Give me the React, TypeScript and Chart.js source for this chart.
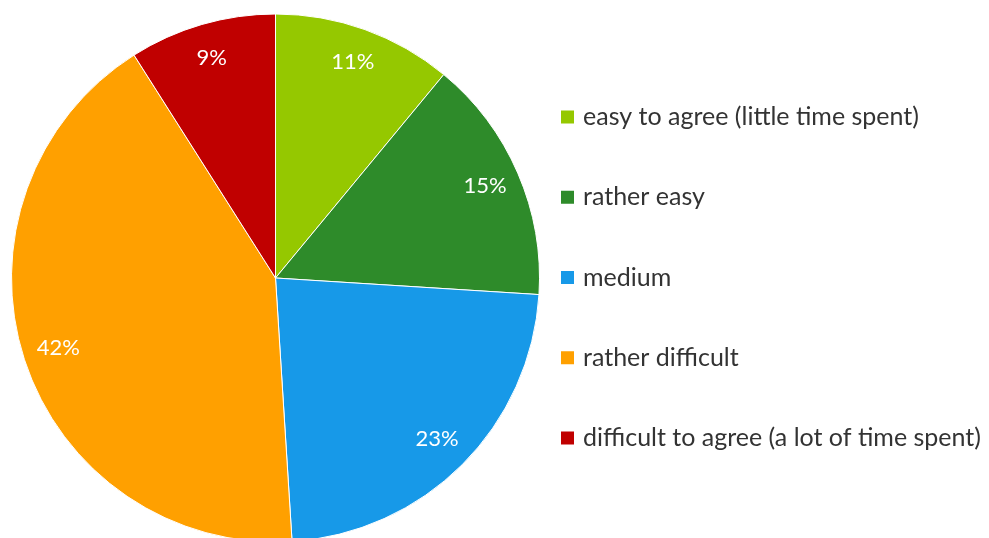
import React, { useEffect, useRef } from "react";
import { Chart, registerables } from "chart.js";

Chart.register(...registerables);

const categories = [
  "easy to agree (little time spent)",
  "rather easy",
  "medium",
  "rather difficult",
  "difficult to agree (a lot of time spent)",
];
const shares = [11, 15, 23, 42, 9];
const sliceColors = ["#95C800", "#2E8B2A", "#1799E8", "#FFA000", "#C00000"];

const FONT = "Lato, 'Open Sans', sans-serif";

const pieLabels = {
  id: "pieLabels",
  afterDatasetsDraw(chart: any) {
    const ctx = chart.ctx;
    const meta = chart.getDatasetMeta(0);
    ctx.save();
    ctx.fillStyle = "#ffffff";
    ctx.font = `22px ${FONT}`;
    ctx.textAlign = "center";
    ctx.textBaseline = "middle";
    meta.data.forEach((arc: any, i: number) => {
      const { x, y, startAngle, endAngle, outerRadius } = arc.getProps(
        ["x", "y", "startAngle", "endAngle", "outerRadius"],
        true
      );
      const mid = (startAngle + endAngle) / 2;
      const r = outerRadius * 0.865;
      ctx.fillText(`${shares[i]}%`, x + Math.cos(mid) * r, y + Math.sin(mid) * r - 1);
    });
    ctx.restore();
  },
};

const sideLegend = {
  id: "sideLegend",
  afterDraw(chart: any) {
    const ctx = chart.ctx;
    const labels = chart.data.labels as string[];
    const colors = chart.data.datasets[0].backgroundColor as string[];
    const boxX = 561;
    const box = 13;
    const textX = 583;
    const firstY = 117;
    const step = 80.25;
    ctx.save();
    ctx.font = `25px ${FONT}`;
    ctx.textAlign = "left";
    ctx.textBaseline = "middle";
    labels.forEach((lab, i) => {
      const cy = firstY + i * step;
      ctx.fillStyle = colors[i];
      ctx.fillRect(boxX, cy - box / 2, box, box);
      ctx.fillStyle = "#333333";
      ctx.fillText(lab, textX, cy);
    });
    ctx.restore();
  },
};

export default function App() {
  const ref = useRef<HTMLCanvasElement | null>(null);
  useEffect(() => {
    if (!ref.current) return;
    const chart = new Chart(ref.current, {
      type: "pie",
      data: {
        labels: categories,
        datasets: [
          {
            data: shares,
            backgroundColor: sliceColors,
            borderColor: "#ffffff",
            borderWidth: 1,
          },
        ],
      },
      options: {
        responsive: false,
        animation: false,
        devicePixelRatio: 1,
        layout: { padding: { left: 11, top: 13, right: 449, bottom: 17 } },
        plugins: {
          legend: { display: false },
          tooltip: { enabled: false },
        },
      },
      plugins: [pieLabels, sideLegend],
    });
    return () => chart.destroy();
  }, []);
  return (
    <div
      style={{
        position: "fixed",
        left: 0,
        top: 0,
        width: 989,
        height: 538,
        overflow: "hidden",
        background: "#fff",
      }}
    >
      <canvas ref={ref} width={989} height={560} style={{ width: 989, height: 560, display: "block" }} />
    </div>
  );
}
